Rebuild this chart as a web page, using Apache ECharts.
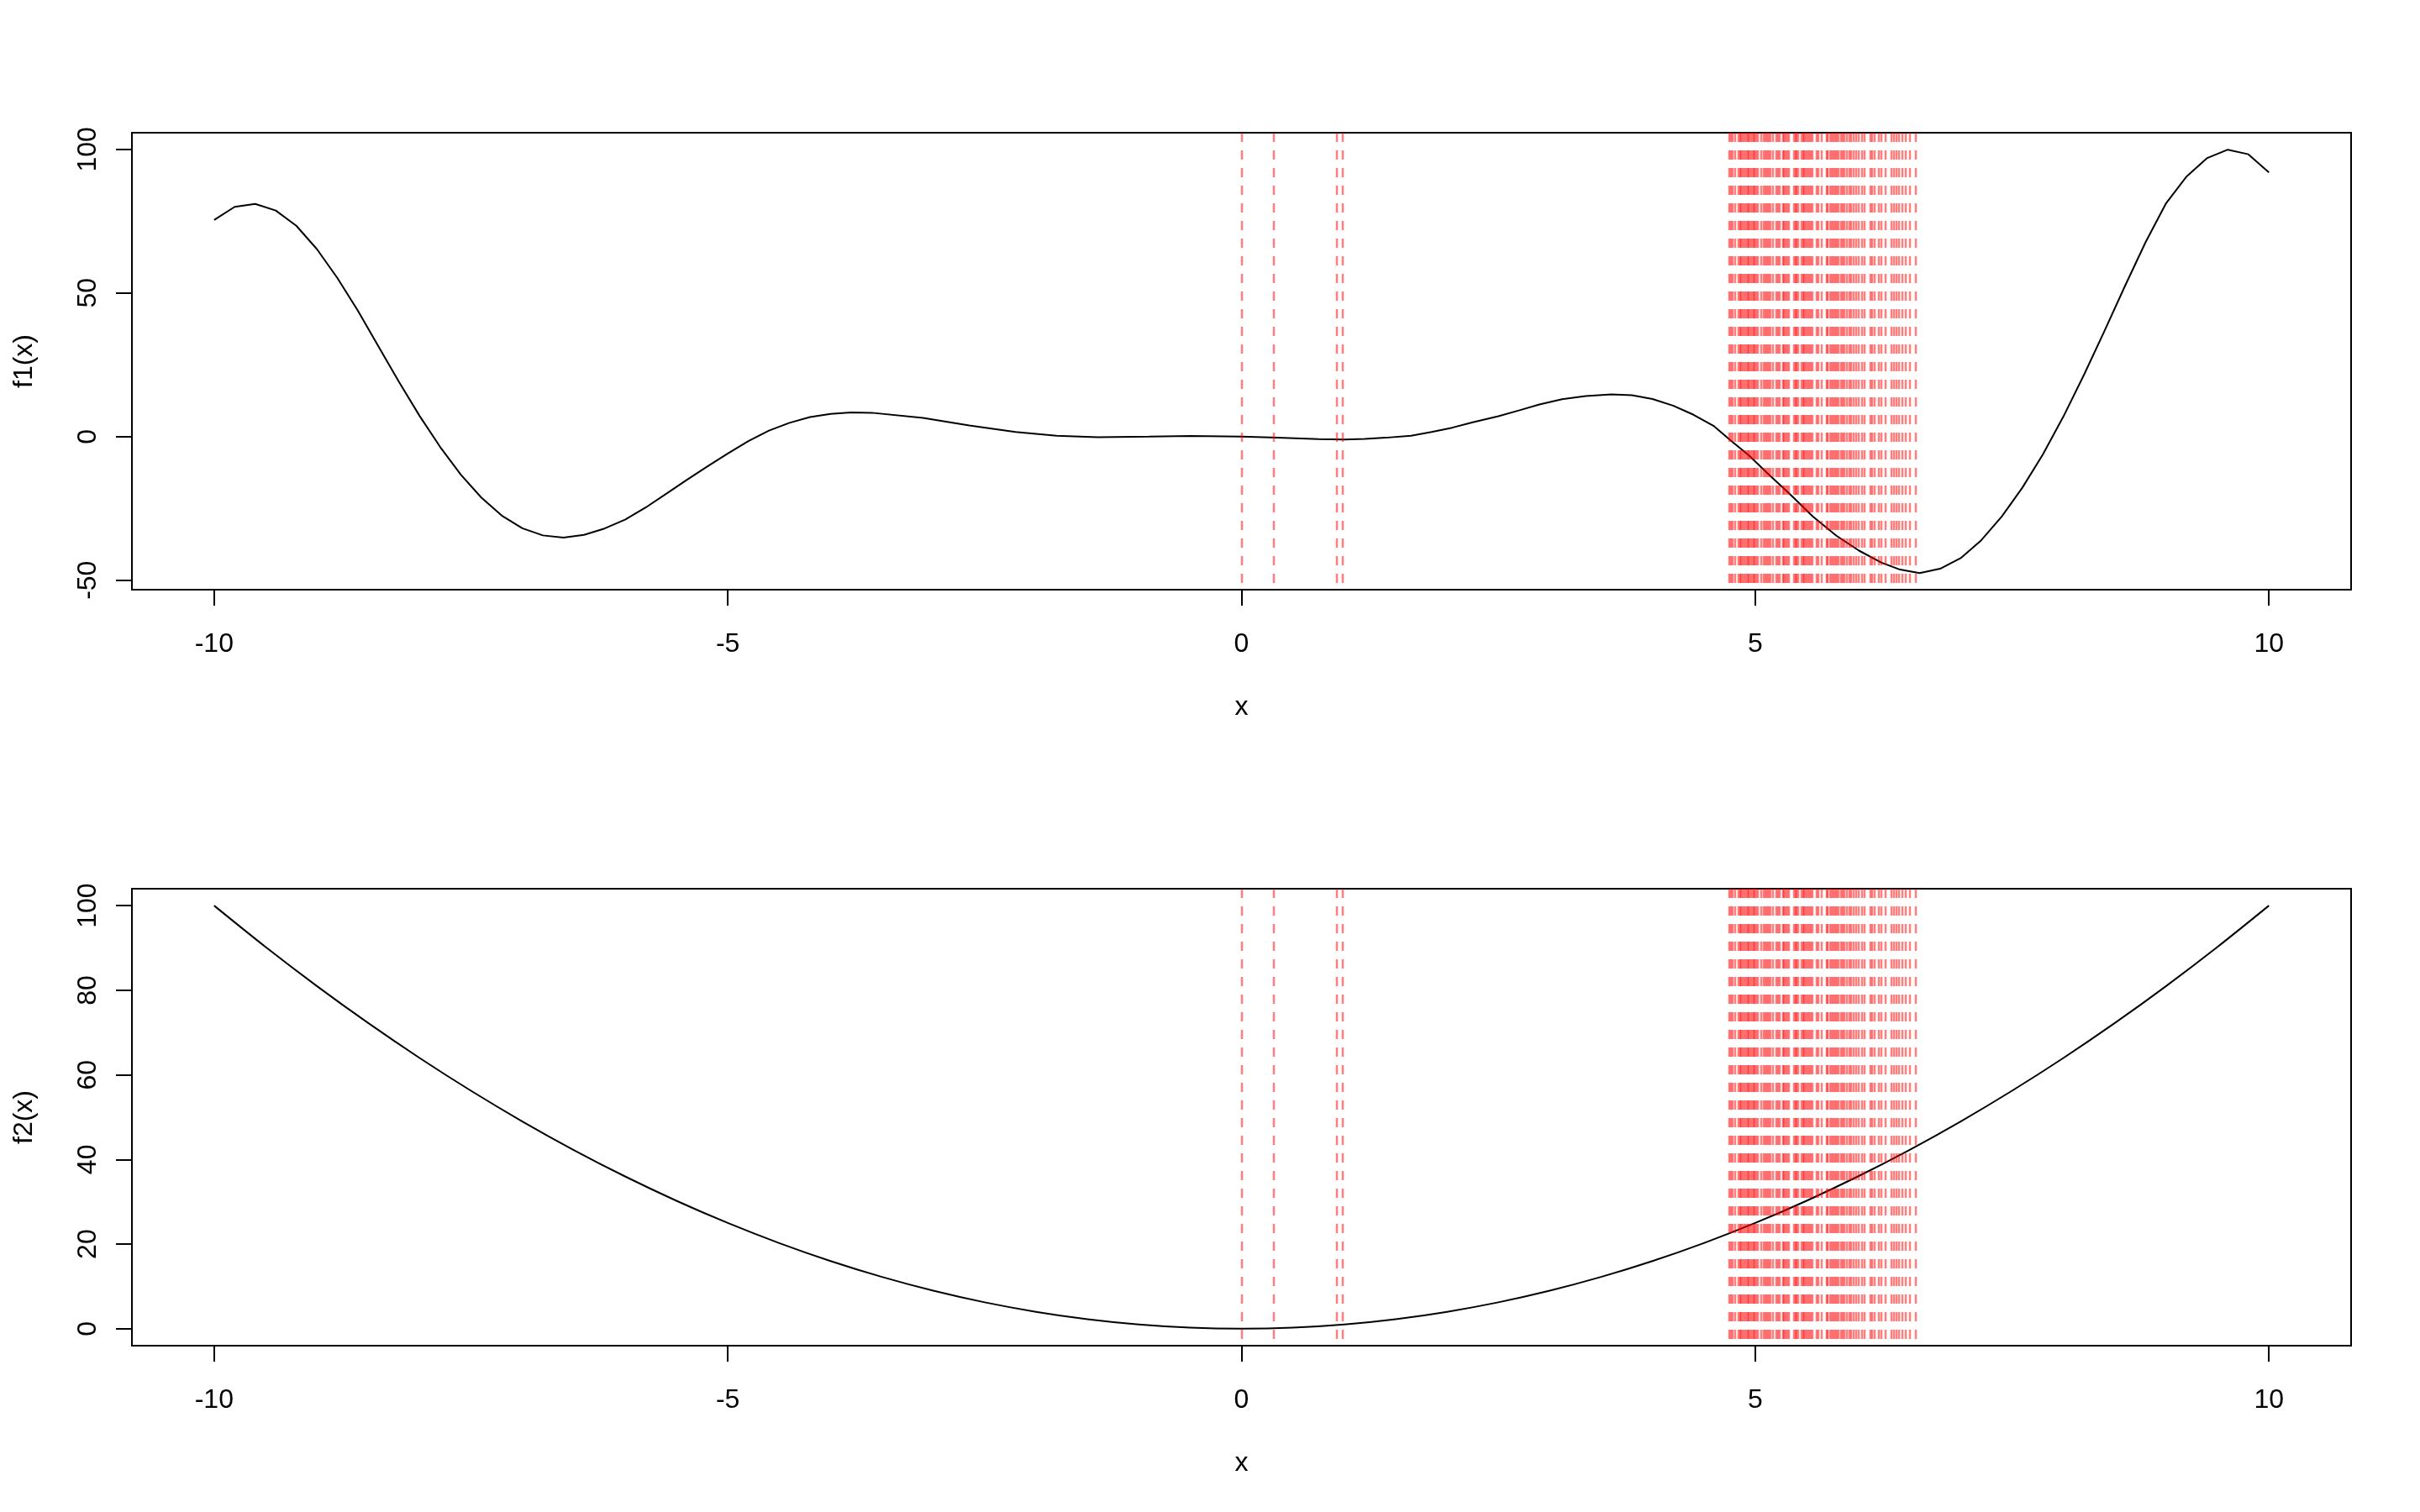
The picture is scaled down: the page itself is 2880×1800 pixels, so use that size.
<!DOCTYPE html>
<html><head><meta charset="utf-8">
<script src="https://cdn.jsdelivr.net/npm/echarts@6/dist/echarts.min.js"></script>
<style>html,body{margin:0;padding:0;background:#fff}#c{width:2880px;height:1800px}</style>
</head><body><div id="c"></div>
<script>
// ---- data ----
const f1X = [-10,-9.8,-9.6,-9.4,-9.2,-9.0,-8.8,-8.6,-8.4,-8.2,-8.0,-7.8,-7.6,-7.4,-7.2,-7.0,-6.8,-6.6,-6.4,-6.2,-6.0,-5.8,-5.6,-5.4,-5.2,-5.0,-4.8,-4.6,-4.4,-4.2,-4.0,-3.8,-3.6,
  -3.1,-2.65,-2.2,-1.8,-1.4,-0.9,-0.5,0,0.35,0.75,1.0,1.2,1.4,1.65,1.85,2.05,2.25,2.5,2.7,2.9,3.12,3.35,3.6,3.8,4.0,4.2,4.4,4.6,4.76,4.94,5.12,5.34,5.56,5.79,6.01,6.23,6.41,6.6,6.8,7.0,7.2,7.4,7.6,7.8,8.0,8.2,8.4,8.6,8.8,9.0,9.2,9.4,9.6,9.8,10];
const f1Y = [75.4,80.0,81.0,78.7,73.4,65.3,55.2,43.8,31.4,19.0,7.2,-3.6,-13.2,-21.2,-27.5,-31.9,-34.4,-35.2,-34.2,-32.0,-28.9,-24.7,-19.9,-15.1,-10.4,-5.9,-1.6,2.1,4.8,6.8,7.9,8.4,8.3,
  6.5,3.9,1.6,0.3,-0.2,0.0,0.2,0.0,-0.4,-0.9,-1.0,-0.8,-0.4,0.3,1.6,3.1,5.0,7.1,9.1,11.2,13.0,14.1,14.7,14.4,13.1,10.8,7.6,3.6,-1.3,-6.6,-12.8,-20.1,-27.8,-34.5,-39.7,-43.9,-46.3,-47.5,-46.0,-42.3,-36.1,-27.8,-17.8,-6.2,7.0,21.5,36.8,52.5,67.7,81.3,90.6,97.0,99.9,98.3,92.0];

const f2X = [-10,-9.5,-9,-8.5,-8,-7.5,-7,-6.5,-6,-5.5,-5,-4.5,-4,-3.5,-3,-2.5,-2,-1.5,-1,-0.5,0,0.5,1,1.5,2,2.5,3,3.5,4,4.5,5,5.5,6,6.5,7,7.5,8,8.5,9,9.5,10];
const f2Y = [100,90.25,81,72.25,64,56.25,49,42.25,36,30.25,25,20.25,16,12.25,9,6.25,4,2.25,1,0.25,0,0.25,1,2.25,4,6.25,9,12.25,16,20.25,25,30.25,36,42.25,49,56.25,64,72.25,81,90.25,100];

const markX = [0,0.316,0.925,0.985,
  4.748,4.762,4.783,4.805,4.838,4.852,4.865,4.879,4.892,4.912,4.925,4.939,4.952,4.969,4.982,4.996,5.010,5.023,5.056,5.083,5.100,5.116,5.132,5.151,5.171,5.209,5.225,5.241,5.269,5.282,5.299,5.315,5.329,5.375,5.391,5.405,5.421,5.451,5.465,5.479,5.495,5.511,5.525,5.541,5.555,5.596,5.618,5.645,5.694,5.708,5.729,5.746,5.765,5.781,5.795,5.811,5.838,5.852,5.868,5.896,5.917,5.936,5.961,5.983,6.010,6.037,6.065,6.119,6.141,6.166,6.206,6.228,6.272,6.329,6.351,6.378,6.400,6.433,6.468,6.509,6.561];

const xTicks = [-10,-5,0,5,10];
const y1Ticks = [-50,0,50,100];
const y2Ticks = [0,20,40,60,80,100];
const xName = 'x';
const y1Name = 'f1(x)';
const y2Name = 'f2(x)';

// ---- chart ----
const FONT = 'Liberation Sans';
const FS = 32;
const chart = echarts.init(document.getElementById('c'), null, {renderer:'canvas'});

function xAxisCfg(gi){
  return {
    type:'value', gridIndex:gi, min:-10.8, max:10.8,
    name:xName, nameLocation:'middle', nameGap:124,
    nameTextStyle:{fontSize:FS, color:'#000', fontFamily:FONT},
    axisLine:{show:false, onZero:false}, splitLine:{show:false},
    axisTick:{show:true, inside:false, length:19, lineStyle:{color:'#000', width:2}, customValues:xTicks},
    axisLabel:{show:true, margin:49, fontSize:FS, color:'#000', fontFamily:FONT, customValues:xTicks, formatter:v=>String(v)}
  };
}
function yAxisCfg(gi, mn, mx, ticks, nm){
  return {
    type:'value', gridIndex:gi, min:mn, max:mx,
    name:nm, nameLocation:'middle', nameGap:112, nameRotate:90,
    nameTextStyle:{fontSize:FS, color:'#000', fontFamily:FONT},
    axisLine:{show:false, onZero:false}, splitLine:{show:false},
    axisTick:{show:true, inside:false, length:19, lineStyle:{color:'#000', width:2}, customValues:ticks},
    axisLabel:{show:true, margin:36, rotate:90, fontSize:FS, color:'#000', fontFamily:FONT, customValues:ticks, formatter:v=>String(v)}
  };
}
function marks(gi){
  return {
    type:'custom', xAxisIndex:gi, yAxisIndex:gi, silent:true, clip:false, z:5,
    data: markX.map(x=>[x,0]), encode:{x:0, y:1},
    renderItem(params, api){
      const cs = params.coordSys;
      const px = Math.round(api.coord([api.value(0), 0])[0]);
      return {type:'line', shape:{x1:px, y1:cs.y, x2:px, y2:cs.y+cs.height},
        style:{stroke:'rgba(255,0,0,0.5)', lineWidth:2.5, lineDash:[11,10]}};
    }
  };
}

chart.setOption({
  animation:false,
  backgroundColor:'#fff',
  grid:[
    {left:157, top:158, width:2641, height:544, show:true, borderColor:'#000', borderWidth:2, backgroundColor:'transparent'},
    {left:157, top:1058, width:2641, height:544, show:true, borderColor:'#000', borderWidth:2, backgroundColor:'transparent'}
  ],
  xAxis:[xAxisCfg(0), xAxisCfg(1)],
  yAxis:[yAxisCfg(0,-53.3,105.8,y1Ticks,y1Name), yAxisCfg(1,-4,104,y2Ticks,y2Name)],
  series:[
    {type:'line', xAxisIndex:0, yAxisIndex:0, data:f1X.map((x,i)=>[x,f1Y[i]]), symbol:'none', smooth:false,
     lineStyle:{color:'#000', width:2}, z:2},
    {type:'line', xAxisIndex:1, yAxisIndex:1, data:f2X.map((x,i)=>[x,f2Y[i]]), symbol:'none', smooth:0.3,
     lineStyle:{color:'#000', width:2}, z:2},
    marks(0), marks(1)
  ]
});
</script>
</body></html>
